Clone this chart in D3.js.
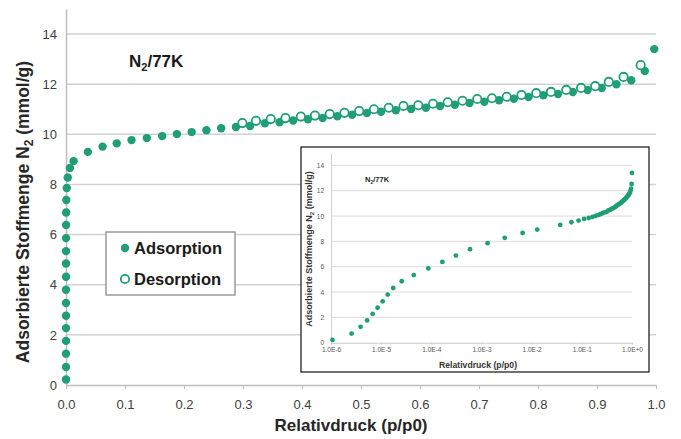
<!DOCTYPE html>
<html><head><meta charset="utf-8">
<script src="https://cdn.jsdelivr.net/npm/d3@7"></script>
<style>
html,body{margin:0;padding:0;background:#fff;}
svg{display:block;font-family:"Liberation Sans",Arial,sans-serif;}
</style></head>
<body><svg id="c" width="681" height="439"></svg>
<script>
// ---- data ----
const adsP = [1.07e-6,2.57e-6,3.89e-6,5.25e-6,6.76e-6,8.5e-6,1.07e-5,1.35e-5,1.74e-5,2.57e-5,4.47e-5,8.7e-5,1.66e-4,3.09e-4,5.9e-4,1.32e-3,2.9e-3,6.6e-3,1.29e-2,0.037,0.062,0.086,0.111,
  0.137,0.163,0.188,0.213,0.238,0.263,0.288,0.312,0.337,0.362,0.385,0.41,0.435,0.46,0.485,0.51,0.534,0.559,0.585,0.61,0.634,0.659,0.684,0.709,0.734,0.759,0.784,0.809,0.834,0.859,0.884,0.908,0.933,0.958,0.981,0.997];
const adsV = [0.22,0.72,1.25,1.76,2.27,2.76,3.27,3.8,4.32,4.85,5.34,5.86,6.38,6.88,7.38,7.86,8.28,8.66,8.93,9.3,9.51,9.64,9.77,
  9.85,9.93,10.01,10.09,10.16,10.24,10.29,10.33,10.44,10.48,10.55,10.6,10.65,10.72,10.78,10.85,10.9,10.96,11.01,11.06,11.13,11.18,11.25,11.3,11.36,11.42,11.49,11.56,11.61,11.69,11.77,11.85,12.0,12.16,12.53,13.4];
const desP = [0.299,0.322,0.347,0.372,0.398,0.422,0.447,0.472,0.497,0.522,0.547,0.572,0.597,0.622,0.647,0.672,0.697,0.722,0.747,0.772,0.797,0.822,0.848,0.873,0.897,0.92,0.945,0.974];
const desV = [10.45,10.54,10.61,10.65,10.71,10.75,10.81,10.86,10.93,11.0,11.06,11.13,11.16,11.22,11.28,11.34,11.41,11.44,11.5,11.57,11.64,11.69,11.77,11.85,11.92,12.09,12.29,12.76];
const xTicks = [0,0.1,0.2,0.3,0.4,0.5,0.6,0.7,0.8,0.9,1.0];
const yTicks = [0,2,4,6,8,10,12,14];
const insetXTicks = [1e-6,1e-5,1e-4,1e-3,1e-2,1e-1,1];
const insetXLabels = ["1.0E-6","1.0E-5","1.0E-4","1.0E-3","1.0E-2","1.0E-1","1.0E+0"];
const seriesNames = ["Adsorption","Desorption"];

const ads = adsP.map((p,i)=>({p, v:adsV[i]}));
const des = desP.map((p,i)=>({p, v:desV[i]}));

const GREEN = "#1f9e78";
const svg = d3.select("#c");

// ---- main chart ----
const x = d3.scaleLinear().domain([0,1]).range([66,656]);
const y = d3.scaleLinear().domain([0,15]).range([385,9]);

svg.append("g").selectAll("line").data(yTicks.filter(d=>d>0)).join("line")
  .attr("x1",x(0)).attr("x2",x(1)).attr("y1",d=>y(d)).attr("y2",d=>y(d))
  .attr("stroke","#d2d2d2").attr("stroke-width",1.5);

const gx = svg.append("g").attr("transform",`translate(0,${y(0)})`)
  .call(d3.axisBottom(x).tickValues(xTicks).tickFormat(d3.format(".1f")).tickSize(4).tickPadding(11).tickSizeOuter(0));
gx.select(".domain").attr("stroke","#bdbdbd").attr("stroke-width",1.5);
gx.selectAll(".tick line").attr("stroke","#bdbdbd");
gx.selectAll("text").attr("font-size",13).attr("fill","#404040").attr("font-family","Liberation Sans, Arial");

const gy = svg.append("g").attr("transform",`translate(${x(0)},0)`)
  .call(d3.axisLeft(y).tickValues(yTicks).tickFormat(d3.format("d")).tickSize(0).tickPadding(9));
gy.select(".domain").attr("stroke","#bdbdbd").attr("stroke-width",1.5);
gy.selectAll("text").attr("font-size",13).attr("fill","#404040").attr("font-family","Liberation Sans, Arial");

// axis titles
const xt = svg.append("text").attr("x",351).attr("y",431).attr("text-anchor","middle")
  .attr("font-size",17).attr("font-weight","bold").attr("fill","#262626").text("Relativdruck (p/p0)");
const yt = svg.append("text").attr("transform","translate(29,212) rotate(-90)").attr("text-anchor","middle")
  .attr("font-size",17.5).attr("font-weight","bold").attr("fill","#262626");
yt.append("tspan").text("Adsorbierte Stoffmenge N");
yt.append("tspan").attr("font-size",12).attr("dy",4).text("2");
yt.append("tspan").attr("dy",-4).text(" (mmol/g)");

// title
const tt = svg.append("text").attr("x",129).attr("y",67).attr("font-size",17).attr("font-weight","bold").attr("fill","#1a1a1a");
tt.append("tspan").text("N");
tt.append("tspan").attr("font-size",11).attr("dy",4).text("2");
tt.append("tspan").attr("dy",-4).text("/77K");

// points
svg.append("g").selectAll("circle").data(ads).join("circle")
  .attr("cx",d=>x(d.p)).attr("cy",d=>y(d.v)).attr("r",4.2).attr("fill",GREEN);
svg.append("g").selectAll("circle").data(des).join("circle")
  .attr("cx",d=>x(d.p)).attr("cy",d=>y(d.v)).attr("r",4.2).attr("fill","#fff")
  .attr("stroke",GREEN).attr("stroke-width",1.8);

// legend
const lg = svg.append("g");
lg.append("rect").attr("x",106).attr("y",232).attr("width",129).attr("height",63)
  .attr("fill","#fff").attr("stroke","#8c8c8c").attr("stroke-width",1.3);
seriesNames.forEach((n,i)=>{
  const cy = 248 + i*31;
  const c = lg.append("circle").attr("cx",125).attr("cy",cy).attr("r",4.2);
  if(i===0) c.attr("fill",GREEN); else c.attr("fill","#fff").attr("stroke",GREEN).attr("stroke-width",1.8);
  lg.append("text").attr("x",134).attr("y",cy+6).attr("font-size",16.5).attr("font-weight","bold")
    .attr("fill","#1a1a1a").text(n);
});

// ---- inset ----
const ins = svg.append("g");
ins.append("rect").attr("x",301).attr("y",147).attr("width",348).attr("height",225)
  .attr("fill","#fff").attr("stroke","#111").attr("stroke-width",1.2);
const xi = d3.scaleLog().domain([1e-6,1]).range([331,632]);
const yi = d3.scaleLinear().domain([0,15]).range([342.7,152.7]);

ins.append("g").selectAll("line").data(yTicks.filter(d=>d>0)).join("line")
  .attr("x1",xi(1e-6)).attr("x2",xi(1)).attr("y1",d=>yi(d)).attr("y2",d=>yi(d))
  .attr("stroke","#e2d8d8").attr("stroke-width",1);

const gxi = ins.append("g").attr("transform",`translate(0,${yi(0)})`)
  .call(d3.axisBottom(xi).tickValues(insetXTicks).tickFormat((d,i)=>insetXLabels[i]).tickSize(2).tickPadding(3).tickSizeOuter(0));
gxi.select(".domain").attr("stroke","#c8c8c8");
gxi.selectAll(".tick line").attr("stroke","#c8c8c8");
gxi.selectAll("text").attr("font-size",6.5).attr("fill","#555").attr("font-family","Liberation Sans, Arial");

const gyi = ins.append("g").attr("transform",`translate(${xi(1e-6)},0)`)
  .call(d3.axisLeft(yi).tickValues(yTicks).tickFormat(d3.format("d")).tickSize(0).tickPadding(7));
gyi.select(".domain").attr("stroke","#d0d0d0");
gyi.selectAll("text").attr("font-size",6.5).attr("fill","#555").attr("font-family","Liberation Sans, Arial");

ins.append("text").attr("x",478).attr("y",368).attr("text-anchor","middle")
  .attr("font-size",8.7).attr("font-weight","bold").attr("fill","#333").text("Relativdruck (p/p0)");
const yti = ins.append("text").attr("transform","translate(312,249) rotate(-90)").attr("text-anchor","middle")
  .attr("font-size",9).attr("font-weight","bold").attr("fill","#333");
yti.append("tspan").text("Adsorbierte Stoffmenge N");
yti.append("tspan").attr("font-size",6).attr("dy",2).text("2");
yti.append("tspan").attr("dy",-2).text(" (mmol/g)");

const tti = ins.append("text").attr("x",365).attr("y",182).attr("font-size",7.5).attr("font-weight","bold").attr("fill","#222");
tti.append("tspan").text("N");
tti.append("tspan").attr("font-size",5).attr("dy",2).text("2");
tti.append("tspan").attr("dy",-2).text("/77K");

ins.append("g").selectAll("circle").data(ads).join("circle")
  .attr("cx",d=>xi(d.p)).attr("cy",d=>yi(d.v)).attr("r",2.4).attr("fill",GREEN);
</script></body></html>
